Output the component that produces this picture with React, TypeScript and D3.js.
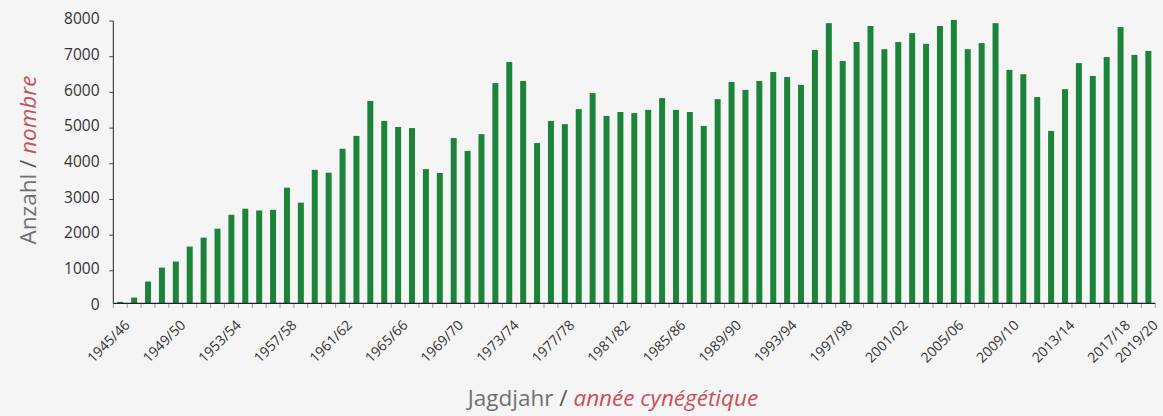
import React from "react";
import * as d3 from "d3";

const seasons: string[] = [
  "1945/46","1946/47","1947/48","1948/49","1949/50","1950/51","1951/52","1952/53","1953/54","1954/55",
  "1955/56","1956/57","1957/58","1958/59","1959/60","1960/61","1961/62","1962/63","1963/64","1964/65",
  "1965/66","1966/67","1967/68","1968/69","1969/70","1970/71","1971/72","1972/73","1973/74","1974/75",
  "1975/76","1976/77","1977/78","1978/79","1979/80","1980/81","1981/82","1982/83","1983/84","1984/85",
  "1985/86","1986/87","1987/88","1988/89","1989/90","1990/91","1991/92","1992/93","1993/94","1994/95",
  "1995/96","1996/97","1997/98","1998/99","1999/00","2000/01","2001/02","2002/03","2003/04","2004/05",
  "2005/06","2006/07","2007/08","2008/09","2009/10","2010/11","2011/12","2012/13","2013/14","2014/15",
  "2015/16","2016/17","2017/18","2018/19","2019/20",
];

const counts: number[] = [
  130, 250, 700, 1090, 1260, 1680, 1930, 2180, 2570, 2740,
  2690, 2710, 3330, 2910, 3830, 3750, 4420, 4780, 5760, 5200,
  5030, 5000, 3850, 3740, 4720, 4360, 4830, 6260, 6850, 6320,
  4580, 5200, 5110, 5530, 5980, 5340, 5450, 5420, 5510, 5840,
  5510, 5450, 5060, 5810, 6290, 6070, 6320, 6570, 6430, 6210,
  7190, 7940, 6880, 7410, 7860, 7210, 7410, 7660, 7360, 7860,
  8030, 7210, 7380, 7940, 6630, 6510, 5870, 4920, 6090, 6820,
  6460, 6990, 7830, 7050, 7160,
];

const yTicks: number[] = [0, 1000, 2000, 3000, 4000, 5000, 6000, 7000, 8000];
const labelledSeasons: string[] = [
  "1945/46","1949/50","1953/54","1957/58","1961/62","1965/66","1969/70","1973/74","1977/78","1981/82",
  "1985/86","1989/90","1993/94","1997/98","2001/02","2005/06","2009/10","2013/14","2017/18","2019/20",
];

const W = 1163;
const H = 416;
const left = 113.3;
const right = 1155.3;
const axisY = 303.3;
const FONT = "'Open Sans', 'Noto Sans', sans-serif";
const GREEN = "#1b8439";
const RED = "#c8505b";
const GREY = "#707070";

export default function App() {
  const x = d3.scaleBand<string>().domain(seasons).range([left, right]).paddingInner(0.57).paddingOuter(0.285);
  const y = d3.scaleLinear().domain([0, 8000]).range([306.5, 21]);
  const step = x.step();
  const boundaries = d3.range(seasons.length + 1).map((i) => left + i * step);

  return (
    <svg width={W} height={H} style={{ position: "absolute", left: 0, top: 0, background: "#f5f5f5" }}>
      <rect x={0} y={0} width={W} height={H} fill="#f5f5f5" />
      {seasons.map((s, i) => (
        <rect key={s} x={x(s)!} y={y(counts[i])} width={x.bandwidth()} height={axisY - y(counts[i])} fill={GREEN} />
      ))}
      {boundaries.map((bx, i) => (
        <line key={i} x1={bx} x2={bx} y1={axisY} y2={axisY + 4.5} stroke="#999" strokeWidth={1} />
      ))}
      <line x1={left} x2={right} y1={axisY} y2={axisY} stroke="#222" strokeWidth={1.3} />
      <line x1={left} x2={left} y1={y(8000)} y2={axisY} stroke="#222" strokeWidth={1} />
      {yTicks.map((t) => (
        <g key={t}>
          {t > 0 && <line x1={left - 4} x2={left} y1={y(t)} y2={y(t)} stroke="#444" strokeWidth={1} />}
          <text x={99.5} y={y(t) - 1} textAnchor="end" dominantBaseline="middle" fontFamily={FONT} fontSize={15.5} fill="#333">
            {t}
          </text>
        </g>
      ))}
      {labelledSeasons.map((s) => {
        const cx = x(s)! + x.bandwidth() / 2 + 10.5;
        const cy = 326;
        return (
          <text key={s} x={cx} y={cy} transform={`rotate(-45 ${cx} ${cy})`} textAnchor="end" fontFamily={FONT} fontSize={14} fill="#333">
            {s}
          </text>
        );
      })}
      <text transform="translate(36,160) rotate(-90)" textAnchor="middle" fontFamily={FONT} fontWeight={400} fontSize={22.5}>
        <tspan fill={GREY}>Anzahl </tspan>
        <tspan fill="#555">/</tspan>
        <tspan fill={RED} fontStyle="italic"> nombre</tspan>
      </text>
      <text x={613} y={406} textAnchor="middle" fontFamily={FONT} fontWeight={400} fontSize={22.5}>
        <tspan fill={GREY}>Jagdjahr </tspan>
        <tspan fill="#555">/</tspan>
        <tspan fill={RED} fontStyle="italic"> année cynégétique</tspan>
      </text>
    </svg>
  );
}
